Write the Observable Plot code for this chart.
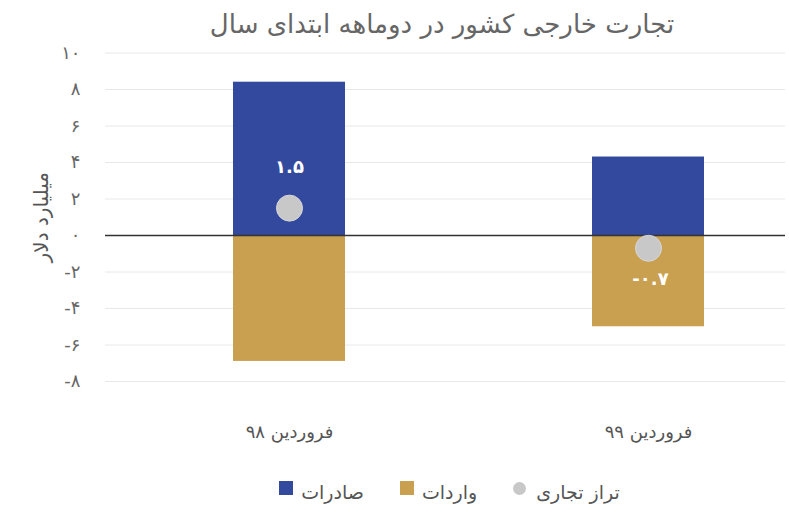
<!DOCTYPE html>
<html>
<head>
<meta charset="utf-8">
<script src="https://cdn.jsdelivr.net/npm/d3@7"></script>
<script src="https://cdn.jsdelivr.net/npm/@observablehq/plot@0.6"></script>
<style>
  html, body { margin: 0; padding: 0; background: #fff; }
  body { width: 789px; height: 531px; position: relative; overflow: hidden; font-family: "DejaVu Sans", sans-serif; }
  #title { position: absolute; left: 0; top: 6px; width: 789px; padding-left: 95px; box-sizing: border-box; text-align: center; font-size: 26px; color: #666; line-height: 36px; }
  #chart { position: absolute; left: 0; top: 30px; }
  #legend { position: absolute; left: 0; top: 481px; width: 789px; display: flex; justify-content: center; align-items: center; padding-left: 110px; box-sizing: border-box; font-size: 19px; color: #555; direction: ltr; }
  .item { display: flex; align-items: center; margin: 0 18px; }
  .sw { width: 14px; height: 14px; margin-right: 8px; position: relative; top: -4px; }
  .dot { width: 13px; height: 13px; border-radius: 50%; margin-right: 10px; position: relative; top: -4px; }
</style>
</head>
<body>
<div id="title"></div>
<div id="chart"></div>
<div id="legend"></div>
<script>
const titleText = "تجارت خارجی کشور در دوماهه ابتدای سال";
const yLabel = "میلیارد دلار";
const categories = ["فروردین ۹۸", "فروردین ۹۹"];
const exportsVals = [8.4, 4.3];
const importsVals = [-6.9, -5.0];
const balanceVals = [1.5, -0.7];
const balanceLabels = ["۱.۵", "-۰.۷"];
const yTicks = [-8, -6, -4, -2, 0, 2, 4, 6, 8, 10];
const yTickLabels = ["-۸", "-۶", "-۴", "-۲", "۰", "۲", "۴", "۶", "۸", "۱۰"];
const seriesNames = ["صادرات", "واردات", "تراز تجاری"];
const seriesColors = ["#33499e", "#c9a050", "#c8c8c8"];

document.getElementById("title").textContent = titleText;

const bars = [];
categories.forEach((c, i) => {
  bars.push({cat: c, series: seriesNames[0], v: exportsVals[i]});
  bars.push({cat: c, series: seriesNames[1], v: importsVals[i]});
});
const balance = categories.map((c, i) => ({cat: c, v: balanceVals[i], label: balanceLabels[i]}));
const tickLabelOf = new Map(yTicks.map((t, i) => [t, yTickLabels[i]]));

const chart = Plot.plot({
  width: 789,
  height: 435,
  marginLeft: 105,
  marginRight: 4,
  marginTop: 22.5,
  marginBottom: 84,
  style: {fontFamily: "DejaVu Sans, sans-serif", background: "transparent"},
  x: {domain: categories, paddingInner: 0.689, paddingOuter: 0.289, align: 0.61},
  y: {domain: [-8, 10]},
  color: {domain: seriesNames, range: seriesColors},
  marks: [
    Plot.gridY(yTicks, {stroke: "#e8e8e8", strokeOpacity: 1, strokeWidth: 1}),
    Plot.barY(bars, {x: "cat", y1: 0, y2: "v", fill: "series"}),
    Plot.ruleY([0], {stroke: "#333", strokeWidth: 1.5}),
    Plot.dot(balance, {x: "cat", y: "v", r: 13, fill: seriesColors[2], stroke: "#d8d8d8", strokeWidth: 1}),
    Plot.text(balance.filter(d => d.v >= 0), {x: "cat", y: "v", text: "label", dy: -41, fill: "#fff", fontSize: 18, fontWeight: "bold"}),
    Plot.text(balance.filter(d => d.v < 0), {x: "cat", y: "v", text: "label", dy: 31, dx: 2, fill: "#fff", fontSize: 18, fontWeight: "bold"}),
    Plot.axisY(yTicks, {tickSize: 0, tickPadding: 25, tickFormat: t => tickLabelOf.get(t), fontSize: 18, fill: "#666",
      label: yLabel, labelAnchor: "center", labelArrow: "none", labelOffset: 72}),
    Plot.axisX({tickSize: 0, tickPadding: 44, fontSize: 18, fill: "#555", label: null})
  ]
});
document.getElementById("chart").appendChild(chart);

chart.querySelectorAll("g[aria-label='y-axis label'] text").forEach(t => {
  t.setAttribute("font-size", "20");
  t.setAttribute("fill", "#555");
});

const legend = document.getElementById("legend");
seriesNames.forEach((name, i) => {
  const item = document.createElement("div");
  item.className = "item";
  const m = document.createElement("span");
  m.className = i === 2 ? "dot" : "sw";
  m.style.background = seriesColors[i];
  const t = document.createElement("span");
  t.textContent = name;
  item.appendChild(m);
  item.appendChild(t);
  legend.appendChild(item);
});
</script>
</body>
</html>
